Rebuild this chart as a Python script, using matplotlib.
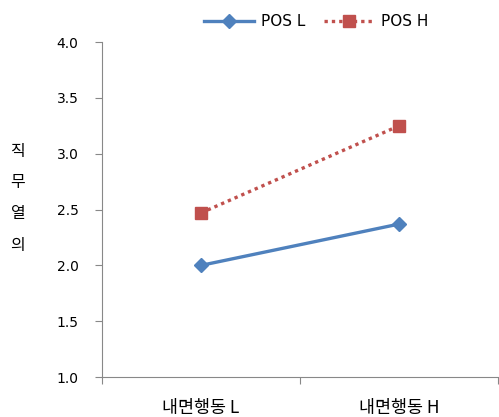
import matplotlib
matplotlib.use("Agg")
import matplotlib.pyplot as plt
import numpy as np

plt.rcParams['font.family'] = ['DejaVu Sans', 'Noto Sans CJK KR']

categories = ["내면행동 L", "내면행동 H"]
pos_l = [2.0, 2.37]
pos_h = [2.47, 3.25]
yticks = [1.0, 1.5, 2.0, 2.5, 3.0, 3.5, 4.0]

fig = plt.figure(figsize=(4.99, 4.17), dpi=100)
ax = fig.add_axes([0.2044, 0.0959, 0.7936, 0.8031])

x = np.arange(len(categories)) + 0.5
ax.plot(x, pos_l, color="#4F81BD", lw=2.4, marker="D", ms=7, label="POS L")
ax.plot(x, pos_h, color="#C0504D", lw=2.4, ls=(0, (1, 1.2)), marker="s", ms=8,
        label="POS H")

ax.set_xlim(0, 2)
ax.set_ylim(1.0, 4.0)
ax.set_yticks(yticks)
ax.set_yticklabels([f"{v:.1f}" for v in yticks], fontsize=10)
ax.set_xticks([0, 1, 2])
ax.set_xticklabels([])
ax.set_xticks(x, minor=True)
ax.set_xticklabels(categories, minor=True, fontsize=12.5,
                   family=['Noto Sans CJK KR', 'DejaVu Sans'])
ax.tick_params(axis="x", which="minor", length=0, pad=16)
ax.tick_params(axis="x", which="major", length=5, color="#888888")
ax.tick_params(axis="y", length=5, color="#888888", pad=12)

for s in ["top", "right"]:
    ax.spines[s].set_visible(False)
for s in ["left", "bottom"]:
    ax.spines[s].set_color("#888888")

fig.text(0.036, 0.525, "직\n무\n열\n의", fontsize=11.5, ha="center", va="center",
         linespacing=2.1, family=['Noto Sans CJK KR', 'DejaVu Sans'])

ax.legend(loc="upper center", bbox_to_anchor=(0.54, 1.125), ncol=2, frameon=False,
          fontsize=11, handlelength=3.3, columnspacing=1.2, handletextpad=0.45)

fig.savefig("out.png", dpi=100)
